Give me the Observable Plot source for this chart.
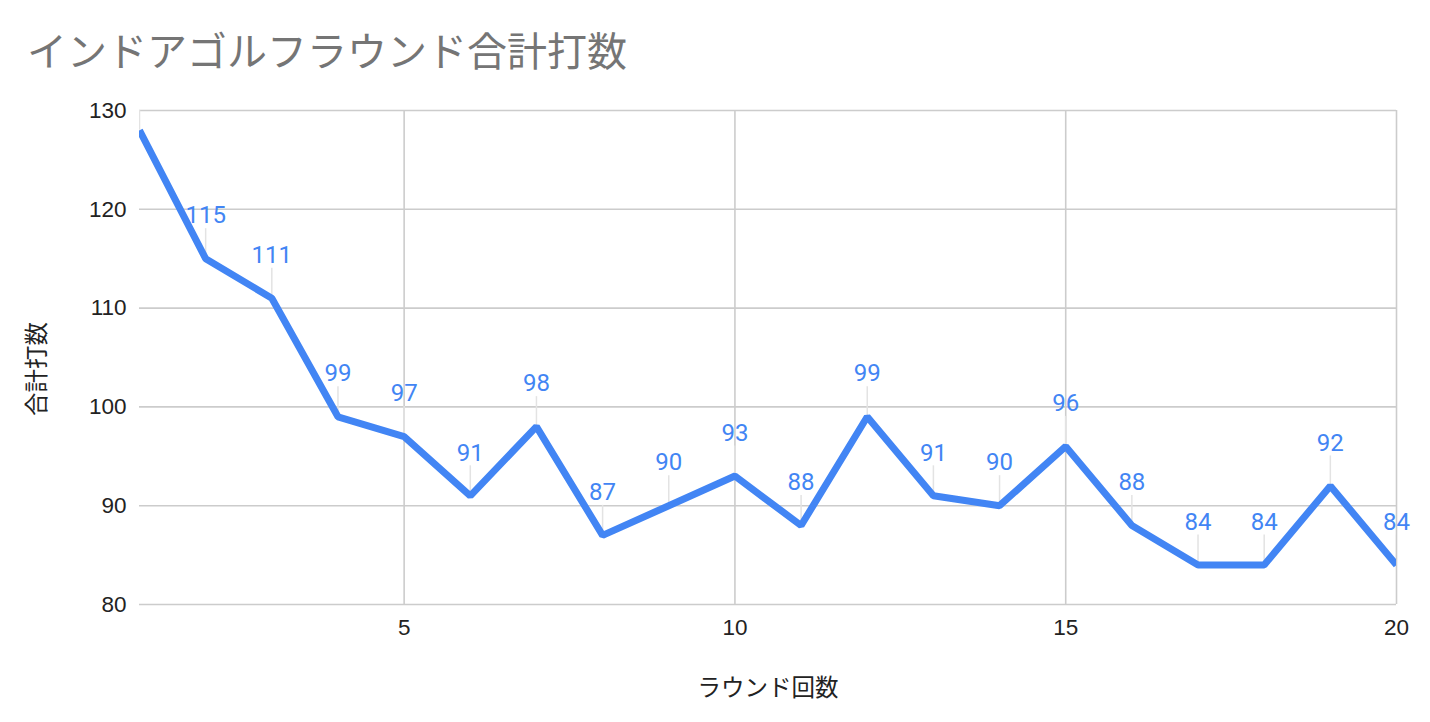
<!DOCTYPE html>
<html><head><meta charset="utf-8">
<script src="https://cdn.jsdelivr.net/npm/d3@7"></script>
<script src="https://cdn.jsdelivr.net/npm/@observablehq/plot@0.6"></script>
<style>
body{margin:0;background:#fff;}
#wrap{position:relative;width:1430px;height:722px;overflow:hidden;}
#wrap svg{position:absolute;left:0;top:0;}
.t{position:absolute;white-space:nowrap;line-height:1;font-family:"Noto Sans CJK JP",sans-serif;}
#title{left:27px;top:29px;font-size:40px;color:#757575;}
#xlab{left:768px;top:675px;font-size:23.5px;color:#222;transform:translateX(-50%);}
#ylab{left:36px;top:369px;font-size:23.5px;color:#222;transform:translate(-50%,-50%) rotate(-90deg);}
</style></head><body>
<div id="wrap">
<div class="t" id="title">インドアゴルフラウンド合計打数</div>
<div class="t" id="xlab">ラウンド回数</div>
<div class="t" id="ylab">合計打数</div>
</div>
<script>
const rounds = [1,2,3,4,5,6,7,8,9,10,11,12,13,14,15,16,17,18,19,20];
const scores = [128,115,111,99,97,91,98,87,90,93,88,99,91,90,96,88,84,84,92,84];
const xTicks = [5,10,15,20];
const yTicks = [80,90,100,110,120,130];

const data = rounds.map((r,i)=>({r, v: scores[i]}));
const blue = "#4285F4";

const chart = Plot.plot({
  width: 1430, height: 722,
  marginTop: 110, marginBottom: 118, marginLeft: 139, marginRight: 34,
  style: {fontFamily: "'Liberation Sans', Arial, sans-serif", fontSize: "22.5px", color: "#222", background: "transparent"},
  x: {domain: [1,20]},
  y: {domain: [80,130]},
  marks: [
    Plot.ruleY(yTicks, {stroke: "#cccccc", strokeWidth: 1.6}),
    Plot.ruleX(xTicks, {stroke: "#cccccc", strokeWidth: 1.6}),
    Plot.axisY({ticks: yTicks, tickSize: 0, tickPadding: 13, label: null}),
    Plot.axisX({ticks: xTicks, tickSize: 0, tickPadding: 15, label: null}),
    Plot.ruleX(data, {x: "r", y1: "v", y2: "v", insetTop: -30, insetBottom: 0, stroke: "#e3e3e3", strokeWidth: 1.5, clip: true}),
    Plot.line(data, {x: "r", y: "v", stroke: blue, strokeWidth: 7, strokeLinejoin: "miter", strokeLinecap: "butt", clip: true}),
    Plot.text(data, {filter: d => d.r > rounds[0], x: "r", y: "v", text: d => String(d.v), dy: -43, fill: blue, fontSize: 24, fontFamily: "Roboto, sans-serif"})
  ]
});
document.getElementById("wrap").prepend(chart);
</script>
</body></html>
